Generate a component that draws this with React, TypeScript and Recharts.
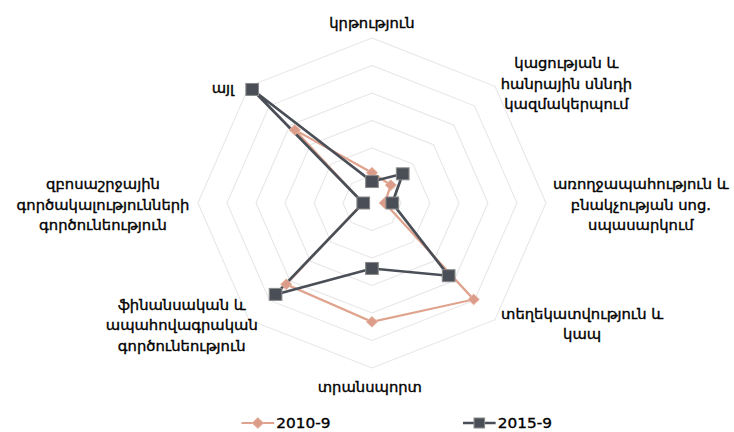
import React from 'react';
import { RadarChart, Radar, PolarGrid, PolarAngleAxis, PolarRadiusAxis, Legend } from 'recharts';

// Category labels (each entry = wrapped lines as in the reference)
const categoryLines: string[][] = [
  ['կրթություն'],
  ['կացության և', 'հանրային սննդի', 'կազմակերպում'],
  ['առողջապահություն և', 'բնակչության սոց.', 'սպասարկում'],
  ['տեղեկատվություն և', 'կապ'],
  ['տրանսպորտ'],
  ['ֆինանսական և', 'ապահովագրական', 'գործունեություն'],
  ['զբոսաշրջային', 'գործակալությունների', 'գործունեություն'],
  ['այլ'],
];
const categories = categoryLines.map((l) => l.join(' '));

const series2010 = [5.5, 4.6, 2.2, 24.8, 21.6, 20.9, 1.6, 18.8];
const series2015 = [3.9, 7.5, 3.5, 18.7, 11.9, 23.5, 1.5, 29.2];
const radiusTicks = [0, 5, 10, 15, 20, 25, 30];
const seriesNames = ['2010-9', '2015-9'];

const data = categories.map((c, i) => ({
  category: c,
  s2010: series2010[i],
  s2015: series2015[i],
}));

const PINK = '#DFA38E';
const PINK_FILL = '#DB9D89';
const DARK = '#4A4F57';
const STRETCH = 1.0546;
const W = 696;
const H = 432;
const FONT = '"DejaVu Sans", sans-serif';

// label offsets relative to the tick anchor supplied by recharts
const labelOffsets: [number, number][] = [
  [0, -7],
  [62, 3],
  [82, 2],
  [77, -1],
  [-2, 11],
  [-58, 0],
  [-82, 2],
  [-19, 7],
];
const LINE_H = 20.5;

const renderTick = (props: any) => {
  const { x, y, payload } = props;
  const idx = payload.index ?? categories.indexOf(payload.value);
  const lines = categoryLines[idx] || [String(payload.value)];
  const [ox, oy] = labelOffsets[idx] || [0, 0];
  const cxp = x + ox;
  const cyp = y + oy - ((lines.length - 1) * LINE_H) / 2;
  return (
    <text
      x={cxp}
      y={cyp}
      textAnchor="middle"
      dominantBaseline="central"
      fontFamily={FONT}
      fontSize={14}
      fill="#000"
      stroke="#000"
      strokeWidth={0.35}
    >
      {lines.map((ln, i) => (
        <tspan key={i} x={cxp} y={cyp + i * LINE_H}>
          {ln}
        </tspan>
      ))}
    </text>
  );
};

const SquareDot = (props: any) => {
  const { cx, cy, index } = props;
  if (cx == null || cy == null) return <g key={`sq-${index}`} />;
  const s = 12;
  return (
    <rect
      key={`sq-${index}`}
      x={cx - s / 2}
      y={cy - s / 2}
      width={s}
      height={s}
      fill={DARK}
      stroke="#8a8a8a"
      strokeWidth={1}
    />
  );
};

const DiamondDot = (props: any) => {
  const { cx, cy, index } = props;
  if (cx == null || cy == null) return <g key={`dm-${index}`} />;
  const r = 5.4;
  return (
    <polygon
      key={`dm-${index}`}
      points={`${cx},${cy - r} ${cx + r},${cy} ${cx},${cy + r} ${cx - r},${cy}`}
      fill={PINK_FILL}
      stroke="#e9b9a8"
      strokeWidth={0.8}
    />
  );
};

const legendItemX = [229, 439];

const renderLegend = (props: any) => {
  const payload = props.payload || [];
  return (
    <svg width={W} height={22}>
      {payload.map((p: any, i: number) => {
        const x0 = legendItemX[i] ?? 229 + i * 210;
        const isDark = i === 1;
        const color = isDark ? DARK : PINK;
        const yc = 11;
        return (
          <g key={i}>
            <line x1={x0} y1={yc} x2={x0 + 31} y2={yc} stroke={color} strokeWidth={isDark ? 2.5 : 2.2} />
            {isDark ? (
              <rect x={x0 + 15.5 - 5} y={yc - 5} width={10} height={10} fill={DARK} stroke="#8a8a8a" strokeWidth={1} />
            ) : (
              <polygon
                points={`${x0 + 15.5},${yc - 5.5} ${x0 + 21},${yc} ${x0 + 15.5},${yc + 5.5} ${x0 + 10},${yc}`}
                fill={PINK_FILL}
                stroke="#e9b9a8"
                strokeWidth={0.8}
              />
            )}
            <text
              x={x0 + 33}
              y={yc}
              dominantBaseline="central"
              fontFamily={FONT}
              fontSize={14.5}
              fill="#000"
              stroke="#000"
              strokeWidth={0.35}
            >
              {seriesNames[i] ?? p.value}
            </text>
          </g>
        );
      })}
    </svg>
  );
};

export default function App() {
  return (
    <div
      style={{
        position: 'absolute',
        left: 0,
        top: 0,
        width: 734,
        height: 432,
        overflow: 'hidden',
        background: '#fff',
      }}
    >
      <div style={{ width: W, height: H, transform: `scaleX(${STRETCH})`, transformOrigin: '0 0' }}>
        <RadarChart
          width={W}
          height={H}
          cx={352.7}
          cy={203}
          outerRadius={165}
          data={data}
          margin={{ top: 0, right: 0, bottom: 0, left: 0 }}
        >
          <PolarGrid gridType="polygon" radialLines={false} stroke="#E6E6E6" strokeWidth={1} />
          <PolarAngleAxis
            dataKey="category"
            tick={renderTick}
            tickLine={false}
            axisLine={false}
          />
          <PolarRadiusAxis
            domain={[0, 30]}
            ticks={radiusTicks as any}
            tickCount={7}
            tick={false}
            axisLine={false}
            angle={90}
          />
          <Radar
            name={seriesNames[0]}
            dataKey="s2010"
            stroke={PINK}
            strokeWidth={2.2}
            fill="none"
            fillOpacity={0}
            dot={DiamondDot}
            isAnimationActive={false}
          />
          <Radar
            name={seriesNames[1]}
            dataKey="s2015"
            stroke={DARK}
            strokeWidth={2.6}
            fill="none"
            fillOpacity={0}
            dot={SquareDot}
            isAnimationActive={false}
          />
          <Legend
            content={renderLegend}
            wrapperStyle={{ position: 'absolute', left: 0, top: 412, width: W, height: 22 }}
          />
        </RadarChart>
      </div>
    </div>
  );
}
